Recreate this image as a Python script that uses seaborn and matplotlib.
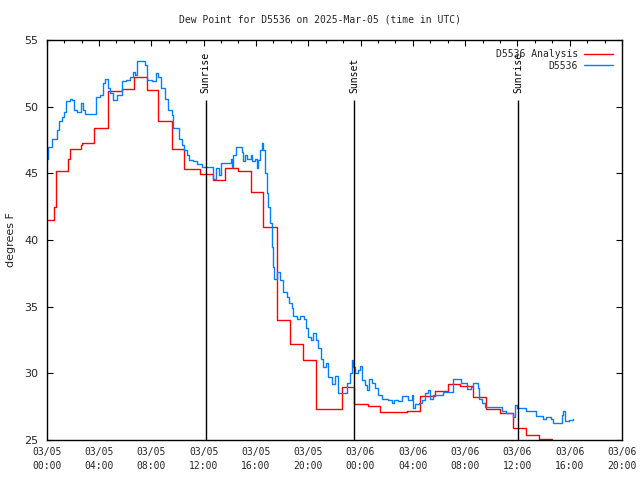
import matplotlib
matplotlib.use("Agg")
import matplotlib.pyplot as plt
import matplotlib.dates as mdates
from matplotlib.ticker import AutoMinorLocator, MultipleLocator
import seaborn as sns
import pandas as pd

# ---- data (hours after 2025-03-05 00:00 UTC, dew point degF) ----
analysis_hours = [0.0, 0.58, 0.71, 1.65, 1.76, 2.65, 2.72, 3.64, 4.67, 5.74, 6.70, 7.65,
                  8.49, 9.56, 10.50, 11.73, 12.75, 13.64, 14.66, 15.61, 16.57, 17.60,
                  18.62, 19.59, 20.60, 21.62, 22.57, 23.53, 24.56, 25.50, 27.54, 28.56,
                  29.66, 30.68, 31.62, 32.64, 33.61, 34.68, 35.65, 36.65, 37.69, 38.64]
analysis_vals = [41.5, 42.5, 45.2, 46.1, 46.8, 47.1, 47.25, 48.4, 51.2, 51.3, 52.2, 51.25,
                 48.9, 46.8, 45.3, 44.95, 44.5, 45.4, 45.2, 43.6, 40.95, 34.0,
                 32.2, 31.0, 27.3, 27.35, 29.0, 27.7, 27.55, 27.1, 27.2, 28.3,
                 28.7, 29.2, 29.05, 28.2, 27.3, 27.05, 25.9, 25.4, 25.1, 25.1]

obs_hours = [0.0, 0.05, 0.12, 0.38, 0.81, 0.96, 1.15, 1.32, 1.48, 1.78, 1.96, 2.11, 2.30,
             2.60, 2.75, 2.93, 3.77, 4.08, 4.33, 4.48, 4.71, 4.84, 5.10, 5.36, 5.74, 6.07,
             6.37, 6.58, 6.76, 6.89, 7.52, 7.65, 8.03, 8.34, 8.54, 8.72, 9.05, 9.26, 9.56,
             9.69, 10.15, 10.33, 10.50, 10.71, 10.91, 11.22, 11.48, 11.86, 12.75, 12.94,
             13.18, 13.31, 14.08, 14.15, 14.28, 14.46, 14.92, 15.04, 15.17, 15.30, 15.61,
             15.73, 15.94, 16.07, 16.19, 16.32, 16.50, 16.57, 16.70, 16.83, 16.95, 17.08,
             17.21, 17.29, 17.39, 17.60, 17.85, 18.10, 18.36, 18.56, 18.75, 18.87, 19.13,
             19.38, 19.69, 19.84, 20.02, 20.20, 20.40, 20.60, 20.78, 20.99, 21.16, 21.37,
             21.55, 21.81, 22.06, 22.31, 22.95, 23.21, 23.34, 23.46, 23.59, 23.84, 23.97,
             24.15, 24.35, 24.53, 24.68, 24.87, 25.12, 25.37, 25.63, 26.14, 26.40, 26.57,
             26.90, 27.16, 27.67, 27.93, 28.00, 28.18, 28.51, 28.69, 28.94, 29.20, 29.33,
             29.58, 30.30, 31.11, 31.68, 32.00, 32.18, 32.44, 32.59, 32.90, 32.95, 33.08,
             33.28, 33.54, 34.86, 35.14, 35.70, 35.83, 35.96, 36.65, 37.41, 37.92, 38.20,
             38.56, 38.71, 39.40, 39.48, 39.66, 39.91, 40.25]
obs_vals = [46.1, 46.1, 47.0, 47.6, 48.25, 48.9, 49.25, 49.6, 50.4, 50.6, 50.5, 49.75, 49.6,
            50.25, 49.75, 49.45, 50.75, 50.9, 51.75, 52.1, 51.4, 51.0, 50.5, 50.9, 51.9, 52.0,
            52.25, 52.6, 52.4, 53.45, 53.1, 52.0, 51.9, 52.55, 52.25, 51.4, 50.6, 49.75, 49.4,
            48.4, 47.6, 47.1, 46.75, 46.4, 46.0, 45.9, 45.7, 45.45, 44.6, 45.4,
            44.9, 45.75, 46.1, 45.5, 46.4, 47.0, 46.6, 45.9, 46.4, 46.1, 46.4,
            45.9, 46.1, 45.4, 46.0, 46.75, 47.3, 46.75, 45.0, 43.5, 42.5, 41.25,
            39.5, 38.0, 37.1, 37.6, 37.0, 36.1, 35.75, 35.3, 34.9, 34.3, 34.1,
            34.3, 34.05, 33.4, 32.75, 32.5, 33.0, 32.5, 31.9, 31.1, 30.5, 30.8,
            29.75, 29.2, 29.8, 28.55, 29.25, 30.0, 31.0, 30.5, 30.0, 30.25, 30.55,
            29.5, 29.1, 28.75, 29.55, 29.25, 28.9, 28.4, 28.1, 28.0, 27.8, 28.0,
            27.9, 28.3, 28.0, 28.4, 27.4, 27.7, 27.75, 28.0, 28.5, 28.75, 28.1,
            28.4, 28.6, 29.6, 29.3, 29.25, 28.8, 29.0, 29.25, 29.3, 28.9, 28.1,
            27.8, 27.5, 27.2, 27.05, 26.75, 27.6, 27.4, 27.15, 26.8, 26.55, 26.7,
            26.55, 26.3, 26.9, 27.2, 26.4, 26.5, 26.6]

event_hours = [12.16, 23.54, 36.08]
event_labels = ["Sunrise", "Sunset", "Sunrise"]

series_names = ["D5536 Analysis", "D5536"]
series_colors = ["#ff0000", "#0080ff"]

title = "Dew Point for D5536 on 2025-Mar-05 (time in UTC)"
ylabel = "degrees F"

# ---- build frames ----
base = pd.Timestamp("2025-03-05 00:00")
df_a = pd.DataFrame({"time": base + pd.to_timedelta(analysis_hours, unit="h"),
                     "value": analysis_vals})
df_o = pd.DataFrame({"time": base + pd.to_timedelta(obs_hours, unit="h"),
                     "value": obs_vals})

sns.set_style("white")
mono = "DejaVu Sans Mono"

fig = plt.figure(figsize=(6.4, 4.8), dpi=100)
ax = fig.add_axes([46.7 / 640, 1 - 440 / 480, (622 - 46.7) / 640, 400 / 480])

sns.lineplot(data=df_a, x="time", y="value", ax=ax, color=series_colors[0],
             drawstyle="steps-post", linewidth=1.0, estimator=None,
             label=series_names[0])
sns.lineplot(data=df_o, x="time", y="value", ax=ax, color=series_colors[1],
             drawstyle="steps-post", linewidth=1.0, estimator=None,
             label=series_names[1])

for h, lab in zip(event_hours, event_labels):
    t = base + pd.Timedelta(hours=h)
    ax.vlines(t, 25, 50.5, color="black", linewidth=1.0, zorder=3)
    ax.text(t, 51.0, lab, rotation=90, ha="center", va="bottom",
            family=mono, fontsize=7, color="black")

ax.set_xlim(base, base + pd.Timedelta(hours=44))
ax.set_ylim(25, 55)
ax.xaxis.set_major_locator(mdates.HourLocator(byhour=range(0, 24, 4)))
ax.xaxis.set_major_formatter(mdates.DateFormatter("%m/%d\n%H:%M"))
ax.xaxis.set_minor_locator(AutoMinorLocator(3))
ax.yaxis.set_major_locator(MultipleLocator(5))

ax.tick_params(which="both", direction="in", top=True, right=True, color="black")
ax.tick_params(which="major", length=4.5, width=0.8)
ax.tick_params(which="minor", length=2.5, width=0.8)
ax.tick_params(axis="y", left=True, labelsize=8, pad=6)
for lbl in ax.get_xticklabels():
    lbl.set_family(mono)
    lbl.set_fontsize(7)
    lbl.set_linespacing(1.5)
ax.tick_params(axis="x", pad=5)

for s in ax.spines.values():
    s.set_visible(True)
    s.set_color("black")
    s.set_linewidth(1.0)

ax.set_xlabel("")
ax.set_ylabel(ylabel, fontsize=8)
ax.yaxis.set_label_coords(-(46.7 - 16) / (622 - 46.7), 0.5)
fig.text(0.5, 1 - 19 / 480, title, ha="center", va="center", family=mono, fontsize=7)

leg = ax.legend(loc="upper right", frameon=False, markerfirst=False,
                prop={"family": mono, "size": 7}, handlelength=3.0,
                handletextpad=0.6, labelspacing=0.15, borderaxespad=0.55)

fig.savefig("out.png", dpi=100)
